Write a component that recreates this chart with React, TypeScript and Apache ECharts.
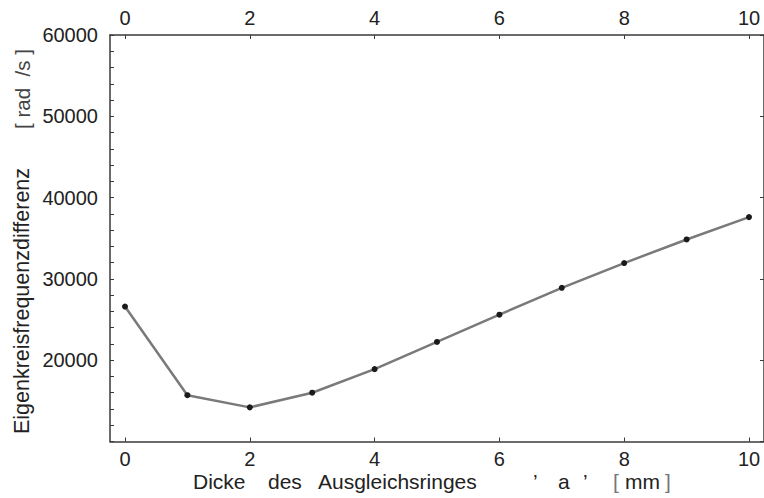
import React, { useEffect, useRef } from "react";
import * as echarts from "echarts";

const thickness = [0, 1, 2, 3, 4, 5, 6, 7, 8, 9, 10];
const freqDiff = [26600, 15700, 14200, 16000, 18900, 22250, 25600, 28900, 31950, 34850, 37600];
const xTickLabels = [0, 2, 4, 6, 8, 10];
const yTickLabels = [20000, 30000, 40000, 50000, 60000];
const xNameParts = ["Dicke", "des", "Ausgleichsringes", "’", "a", "’", "[", "mm", "]"];
const yName = "Eigenkreisfrequenzdifferenz";
const yUnit = "[ rad  /s ]";

export default function App() {
  const ref = useRef<HTMLDivElement>(null);
  useEffect(() => {
    const chart = echarts.init(ref.current!, null, { renderer: "svg" });
    const font = "'Liberation Sans', Arial, Helvetica, sans-serif";
    const axisColor = "#3a3a3a";
    const textColor = "#222";
    const xFmt = (v: number) =>
      xTickLabels.some((t) => Math.abs(t - v) < 1e-6) ? String(Math.round(v)) : "";
    const yFmt = (v: number) =>
      yTickLabels.some((t) => Math.abs(t - v) < 1e-6) ? String(Math.round(v)) : "";
    const xBase = {
      type: "value",
      min: -0.24,
      max: 10.24,
      splitNumber: 5,
      axisLine: { show: true, onZero: false, lineStyle: { color: axisColor, width: 1.5 } },
      axisTick: { show: true, inside: true, length: 4, lineStyle: { color: axisColor, width: 1 } },
      splitLine: { show: false },
    };
    const xPos = [193, 268, 318, 533, 558, 583, 613, 625, 665];
    const xColors = [textColor, textColor, textColor, textColor, textColor, textColor, "#777", textColor, "#777"];
    const graphic: any[] = xNameParts.map((t, i) => ({
      type: "text",
      x: xPos[i],
      y: 481,
      style: {
        text: t,
        fontSize: 21,
        fontFamily: font,
        fill: xColors[i],
        align: "left",
        verticalAlign: "middle",
      },
    }));
    graphic.push({
      type: "text",
      x: 22,
      y: 301,
      rotation: Math.PI / 2,
      style: {
        text: yName,
        fontSize: 21.5,
        fontFamily: font,
        fill: textColor,
        align: "center",
        verticalAlign: "middle",
      },
    });
    graphic.push({
      type: "text",
      x: 22,
      y: 89,
      rotation: Math.PI / 2,
      style: {
        text: yUnit,
        fontSize: 20.5,
        fontFamily: font,
        fill: "#444",
        align: "center",
        verticalAlign: "middle",
      },
    });
    const lbl = { formatter: xFmt, fontSize: 20, color: textColor, margin: 7, fontFamily: font, showMinLabel: false, showMaxLabel: false };
    chart.setOption({
      animation: false,
      backgroundColor: "#ffffff",
      grid: { left: 110, top: 35, width: 656, height: 406.5, containLabel: false },
      xAxis: [
        { ...xBase, position: "bottom", axisLabel: lbl },
        { ...xBase, position: "top", axisLabel: lbl },
      ],
      yAxis: [
        {
          type: "value",
          position: "left",
          min: 10000,
          max: 60000,
          interval: 10000,
          axisLine: { show: true, onZero: false, lineStyle: { color: axisColor, width: 1.5 } },
          axisTick: { show: true, inside: true, length: 4, lineStyle: { color: axisColor, width: 1 } },
          minorTick: { show: true, splitNumber: 5, length: 4, lineStyle: { color: axisColor, width: 1 } },
          axisLabel: { formatter: yFmt, fontSize: 20, color: textColor, margin: 12, fontFamily: font },
          splitLine: { show: false },
        },
        {
          type: "value",
          position: "right",
          min: 10000,
          max: 60000,
          interval: 10000,
          axisLine: { show: true, onZero: false, lineStyle: { color: axisColor, width: 1.5 } },
          axisTick: { show: true, inside: true, length: 4, lineStyle: { color: axisColor, width: 1 } },
          axisLabel: { show: false },
          splitLine: { show: false },
        },
      ],
      series: [
        {
          type: "line",
          xAxisIndex: 0,
          yAxisIndex: 0,
          data: thickness.map((x, i) => [x, freqDiff[i]]),
          symbol: "circle",
          symbolSize: 6,
          showSymbol: true,
          lineStyle: { color: "#7a7a7a", width: 2.5 },
          itemStyle: { color: "#1a1a1a" },
        },
      ],
      graphic,
    });
    return () => chart.dispose();
  }, []);
  return (
    <div
      ref={ref}
      style={{ position: "absolute", left: 0, top: 0, width: 764, height: 498 }}
    />
  );
}
